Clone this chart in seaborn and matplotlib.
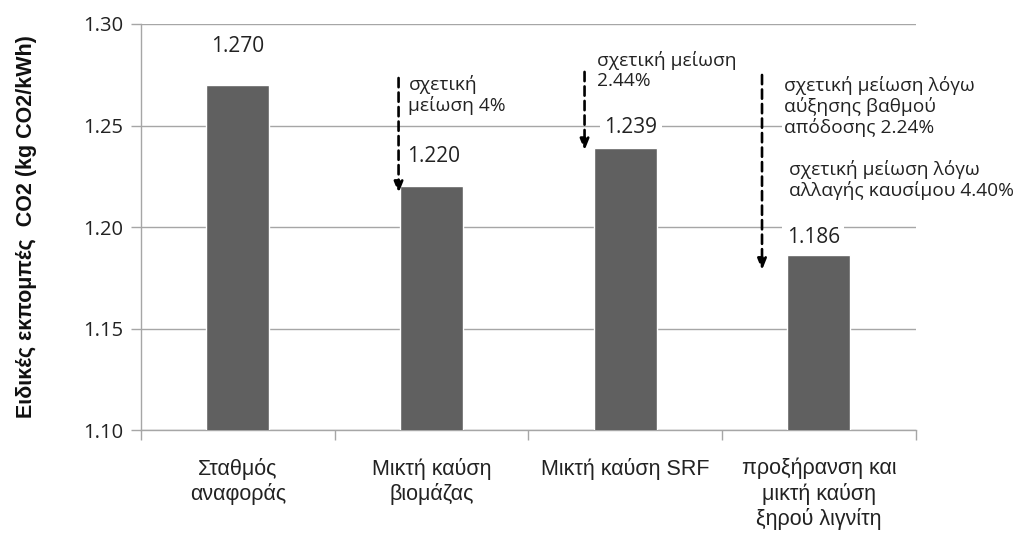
import matplotlib
matplotlib.use("Agg")
import matplotlib.pyplot as plt
import seaborn as sns
import pandas as pd

# Specific CO2 emissions per scenario
categories = ["Σταθμός\nαναφοράς", "Μικτή καύση\nβιομάζας", "Μικτή καύση SRF",
              "προξήρανση και\nμικτή καύση\nξηρού λιγνίτη"]
values = [1.270, 1.220, 1.239, 1.186]
value_labels = ["1.270", "1.220", "1.239", "1.186"]
y_ticks = [1.10, 1.15, 1.20, 1.25, 1.30]
y_label = "Ειδικές εκπομπές  CO2 (kg CO2/kWh)"

reductions = ["σχετική\nμείωση 4%",
              "σχετική μείωση\n2.44%",
              "σχετική μείωση λόγω\nαύξησης βαθμού\nαπόδοσης 2.24%",
              "σχετική μείωση λόγω\nαλλαγής καυσίμου 4.40%"]

sns.set_theme(style="white")
plt.rcParams["font.family"] = ["Liberation Sans", "DejaVu Sans"]

fig = plt.figure(figsize=(10.21, 5.33), dpi=100)
ax = fig.add_axes([0.138, 0.193, 0.759, 0.762])

df = pd.DataFrame({"cat": categories, "val": values})
sns.barplot(data=df, x="cat", y="val", color="#606060", width=0.325,
            saturation=1, ax=ax, zorder=3)

ax.set_ylim(1.10, 1.30)
ax.set_xlim(-0.5, 3.5)
ax.set_yticks(y_ticks)
ax.set_yticklabels([f"{t:.2f}" for t in y_ticks], fontsize=14.5,
                   family="Open Sans", color="#222222")
ax.yaxis.grid(True, color="#a6a6a6", lw=1.0, zorder=0)
ax.set_axisbelow(True)
ax.tick_params(axis="y", length=7, width=1, color="#a6a6a6", pad=6, left=True)
ax.tick_params(axis="x", which="major", length=0, pad=20, labelsize=15.5)
ax.set_xticks(range(len(categories)), categories, color="#222222")
ax.set_xticks([-0.5, 0.5, 1.5, 2.5, 3.5], minor=True)
ax.tick_params(axis="x", which="minor", length=7, width=1, color="#a6a6a6", bottom=True)
for s in ["top", "right"]:
    ax.spines[s].set_visible(False)
for s in ["left", "bottom"]:
    ax.spines[s].set_color("#a6a6a6")
    ax.spines[s].set_linewidth(1)
ax.set_xlabel("")
ax.set_ylabel(y_label, fontsize=15.5, fontweight="bold", labelpad=33, color="#111111")

# value labels above the bars
label_offset = [0.019, 0.0145, 0.0098, 0.009]
label_dx = [0.0, 0.01, 0.03, -0.03]
for i, (v, t) in enumerate(zip(values, value_labels)):
    ax.text(i + label_dx[i], v + label_offset[i], t, ha="center", va="center",
            fontsize=15, family="Open Sans", color="#222222", zorder=4,
            bbox=dict(boxstyle="square,pad=0.2", fc="white", ec="none"))

# dashed reduction arrows
arrow_x = [1 - 0.17, 2 - 0.21, 3 - 0.294]
arrow_top = [1.2734, 1.2764, 1.2749]
arrow_end_offset = [-0.0033, -0.0012, -0.0072]
for i, (x, top) in enumerate(zip(arrow_x, arrow_top)):
    v = values[i + 1]
    ax.annotate("", xy=(x, v + arrow_end_offset[i]), xytext=(x, top),
                arrowprops=dict(arrowstyle="-|>,head_length=0.55,head_width=0.22",
                                ls=(0, (3.5, 2)), lw=1.9, color="black",
                                shrinkA=0, shrinkB=0), zorder=5)

# reduction texts
text_pos = [(0.881, 1.2749), (1.856, 1.2867), (2.82, 1.2744), (2.845, 1.2330)]
for (x, y), t in zip(text_pos, reductions):
    ax.text(x, y, t, ha="left", va="top", fontsize=13.8, family="Open Sans",
            color="#222222", linespacing=1.12, zorder=4,
            bbox=dict(boxstyle="square,pad=0.1", fc="white", ec="none"))

fig.savefig("out.png", dpi=100)
